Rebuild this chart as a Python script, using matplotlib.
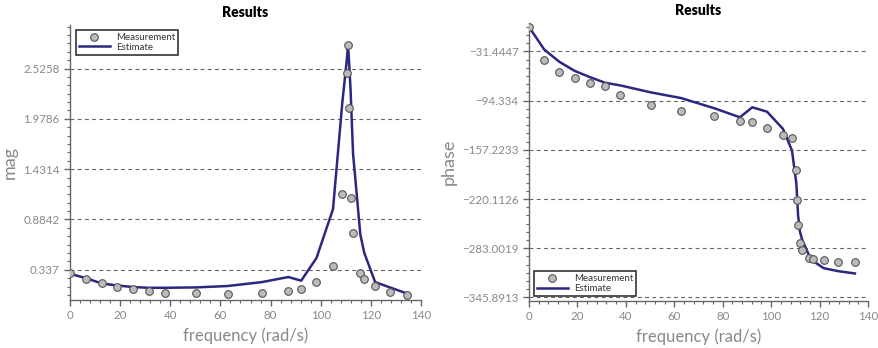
import matplotlib
matplotlib.use("Agg")
import matplotlib.pyplot as plt
from matplotlib.ticker import MultipleLocator, FixedLocator
from matplotlib.lines import Line2D

plt.rcParams['font.family'] = ['Lato', 'DejaVu Sans']

# frequency samples (rad/s)
freq = [0.0, 6.28, 12.57, 18.85, 25.13, 31.42, 37.70, 50.27, 62.83, 76.6,
        87.1, 92.2, 98.3, 104.9, 108.6, 110.4, 110.8, 111.1, 111.9, 112.9,
        115.8, 117.4, 121.7, 127.6, 134.6]

# measured magnitude and phase
mag_meas = [0.297, 0.239, 0.189, 0.149, 0.127, 0.102, 0.084, 0.080, 0.077, 0.080,
            0.105, 0.127, 0.199, 0.377, 1.162, 2.475, 2.779, 2.092, 1.118, 0.739,
            0.297, 0.239, 0.156, 0.095, 0.066]
phase_meas = [0.0, -42.5, -57.4, -65.9, -71.8, -76.1, -86.7, -100.3, -107.5, -113.5,
              -119.8, -121.1, -129.2, -138.5, -142.4, -182.7, -221.0, -253.3, -276.6, -285.6,
              -294.9, -296.2, -297.9, -300.0, -300.0]

# model estimate
mag_est = [0.293, 0.247, 0.188, 0.166, 0.149, 0.141, 0.141, 0.145, 0.160, 0.203,
           0.258, 0.218, 0.464, 0.996, 2.15, 2.62, 2.76, 2.70, 2.30, 1.60,
           0.72, 0.518, 0.203, 0.145, 0.077]
phase_est = [0.0, -28.9, -44.7, -56.2, -64.2, -71.4, -74.8, -83.7, -91.0, -104.1,
             -115.6, -102.8, -108.4, -130.5, -158.0, -200.0, -222.0, -240.0, -262.0, -273.0,
             -293.0, -299.6, -308.5, -312.3, -315.3]

# axis ticks
mag_ticks = [0.337, 0.8842, 1.4314, 1.9786, 2.5258]
mag_tick_labels = ['0.337', '0.8842', '1.4314', '1.9786', '2.5258']
phase_ticks = [-31.4447, -94.334, -157.2233, -220.1126, -283.0019, -345.8913]
phase_tick_labels = ['\u221231.4447', '\u221294.334', '\u2212157.2233',
                     '\u2212220.1126', '\u2212283.0019', '\u2212345.8913']
freq_ticks = [0, 20, 40, 60, 80, 100, 120, 140]

LINE_C = '#2b2880'
AX_C = '#666666'
TXT_C = '#888888'

fig = plt.figure(figsize=(8.79, 3.48), dpi=100)
ax1 = fig.add_axes([70 / 879, 1 - 300 / 348, 351 / 879, 275 / 348])
ax2 = fig.add_axes([529 / 879, 1 - 301 / 348, 339 / 879, 278 / 348])


def style(ax, yticks, ylabels, ylabel, ylim, minor_step):
    for s in ['top', 'right']:
        ax.spines[s].set_visible(False)
    for s in ['left', 'bottom']:
        ax.spines[s].set_color(AX_C)
        ax.spines[s].set_linewidth(1.0)
    ax.set_xlim(0, 140)
    ax.set_ylim(*ylim)
    ax.set_xticks(freq_ticks)
    ax.xaxis.set_minor_locator(MultipleLocator(4))
    ax.set_yticks(yticks)
    ax.set_yticklabels(ylabels)
    minors = []
    v = yticks[0]
    while v > ylim[0]:
        v -= minor_step
    while v < ylim[1]:
        minors.append(v)
        v += minor_step
    ax.yaxis.set_minor_locator(FixedLocator(minors))
    ax.tick_params(which='major', direction='out', length=4, width=1.0,
                   color=AX_C, labelcolor=TXT_C, labelsize=8.3)
    ax.tick_params(which='minor', direction='out', length=2.5, width=0.8, color=AX_C)
    ax.grid(axis='y', which='major', linestyle=(0, (3.5, 3)), color='#666666', linewidth=0.8)
    ax.set_axisbelow(True)
    ax.set_xlabel('frequency (rad/s)', color=TXT_C, fontsize=12, labelpad=4)
    ax.set_ylabel(ylabel, color=TXT_C, fontsize=13)
    ax.set_title('Results', fontsize=10, fontweight='heavy', color='black', pad=6)


def draw(ax, meas, est, loc, anchor):
    ax.plot(freq, est, color=LINE_C, linewidth=1.8, zorder=3)
    ax.plot(freq, meas, linestyle='none', marker='o', markersize=5.5,
            markerfacecolor='#bbbbbb', markeredgecolor='#555555',
            markeredgewidth=0.8, zorder=4)
    handles = [
        Line2D([], [], linestyle='none', marker='o', markersize=5.5,
               markerfacecolor='#bbbbbb', markeredgecolor='#555555', markeredgewidth=0.8),
        Line2D([], [], color=LINE_C, linewidth=1.8),
    ]
    leg = ax.legend(handles, ['Measurement', 'Estimate'], loc=loc, bbox_to_anchor=anchor,
                    fontsize=7, frameon=True, fancybox=False, handlelength=3.2,
                    borderpad=0.3, labelspacing=0.1, handletextpad=0.6,
                    borderaxespad=0.0)
    leg.get_frame().set_edgecolor('black')
    leg.get_frame().set_linewidth(1.2)
    for t in leg.get_texts():
        t.set_color('#333333')


style(ax1, mag_ticks, mag_tick_labels, 'mag', (0.008, 3.0), (mag_ticks[1] - mag_ticks[0]) / 6)
draw(ax1, mag_meas, mag_est, 'upper left', (6 / 351, 1 - 5 / 275))

style(ax2, phase_ticks, phase_tick_labels, 'phase', (-350.5, 5.0),
      (phase_ticks[0] - phase_ticks[1]) / 6)
draw(ax2, phase_meas, phase_est, 'lower left', (5 / 339, 5 / 278))

fig.savefig('out.png', dpi=100)
